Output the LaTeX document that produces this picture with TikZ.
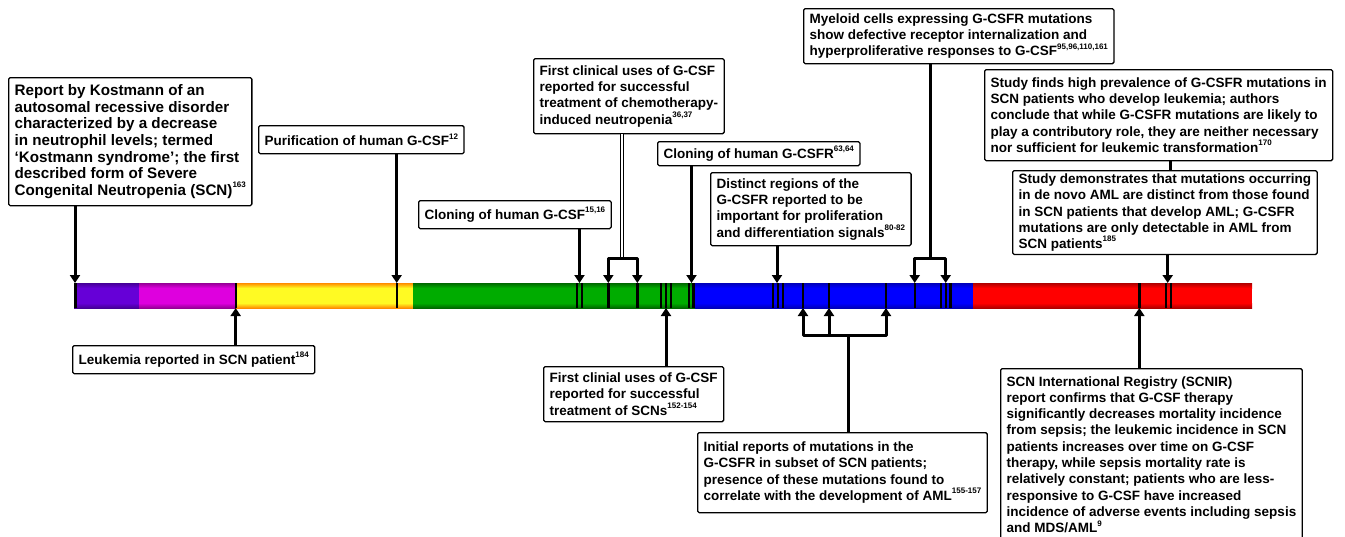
\documentclass[tikz,border=0pt]{standalone}
\usepackage{fontspec}
\setmainfont{Liberation Sans}
\usetikzlibrary{arrows.meta}
\definecolor{barPurple}{RGB}{102,0,215}
\definecolor{barPurpleEdge}{RGB}{70,0,150}
\definecolor{barMagenta}{RGB}{222,0,222}
\definecolor{barMagentaEdge}{RGB}{150,0,150}
\definecolor{barYellow}{RGB}{255,250,35}
\definecolor{barYellowEdge}{RGB}{255,140,0}
\definecolor{barGreen}{RGB}{0,172,0}
\definecolor{barGreenEdge}{RGB}{0,105,0}
\definecolor{barBlue}{RGB}{0,0,255}
\definecolor{barBlueEdge}{RGB}{0,0,185}
\definecolor{barRed}{RGB}{255,0,0}
\definecolor{barRedEdge}{RGB}{175,0,0}
\newcommand\evtfont{\fontsize{13.5}{16.3}\selectfont\bfseries}
\newcommand\kostfont{\fontsize{15.2}{16.6}\selectfont\bfseries}
\newcommand\refno[1]{\raisebox{0.5em}{\fontsize{8}{8}\selectfont #1}}
\tikzset{
  evt/.style={draw, line width=1.3pt, rounded corners=1.5pt, fill=white, align=left, anchor=north west, inner xsep=6pt, inner ysep=3pt, font=\evtfont},
  pointer/.style={line width=3pt, -{Triangle[width=10pt,length=8pt]}},
  link/.style={line width=3pt},
  twin/.style={double, line width=0.8pt, double distance=2pt},
  tick/.style={line width=2.4pt}
}
\begin{document}
\begin{tikzpicture}[x=1pt, y=-1pt, line join=round]
  \useasboundingbox (0,0) rectangle (1345,536);
  \foreach \a/\b/\c in {74/139/barPurple, 139/236/barMagenta, 236/413/barYellow, 413/695/barGreen, 695/973/barBlue, 973/1252/barRed} {
    \fill[\c] (\a,283) rectangle (\b,308);
    \shade[top color=\c Edge, bottom color=\c] (\a,283) rectangle (\b,288);
    \shade[top color=\c, bottom color=\c Edge] (\a,303) rectangle (\b,308);
  }
  \foreach \t in {75.5, 235.7, 396.7, 577, 582, 608.3, 637.3, 661, 666, 671, 689, 693.5, 773, 778, 783, 803, 829, 886, 914.7, 941, 946, 950.5, 1139.3, 1166, 1170.7}
    \draw[tick] (\t,283) -- (\t,308);
  \foreach \n/\x in {kost/75, purif/396.7, clonG/579.5, c1/608.3, c2/637.3, clonR/691.5, dist/777, m1/914.7, m2/945.7, demo/1167.7}
    \coordinate (top-\n) at (\x,283);
  \foreach \n/\x in {leuk/235.7, clin/666, i1/803, i2/829, i3/886, scnir/1139.3}
    \coordinate (bot-\n) at (\x,308);
  \coordinate (chemo-j) at (622,258);
  \coordinate (myel-j) at (930,258);
  \coordinate (init-j) at (848,335);
  \coordinate (find-x) at (1170,165);

  \node[evt, font=\kostfont, minimum height=128pt] (kost) at (8,77) {Report by Kostmann of an\\autosomal recessive disorder\\characterized by a decrease\\in neutrophil levels; termed\\`Kostmann syndrome'; the first\\described form of Severe\\Congenital Neutropenia (SCN)\refno{163}};
  \node[evt, minimum height=28pt] (purif) at (258,125) {Purification of human G-CSF\refno{12}};
  \node[evt, minimum height=28pt] (clonG) at (418,200) {Cloning of human G-CSF\refno{15,16}};
  \node[evt, minimum height=75pt] (chemo) at (533,58) {First clinical uses of G-CSF\\reported for successful\\treatment of chemotherapy-\\induced neutropenia\refno{36,37}};
  \node[evt, minimum height=24pt] (clonR) at (657,141) {Cloning of human G-CSFR\refno{63,64}};
  \node[evt, minimum height=55pt] (myel) at (803,8) {Myeloid cells expressing G-CSFR mutations\\show defective receptor internalization and\\hyperproliferative responses to G-CSF\refno{95,96,110,161}};
  \node[evt, minimum height=73pt] (dist) at (710,172) {Distinct regions of the\\G-CSFR reported to be\\important for proliferation\\and differentiation signals\refno{80-82}};
  \node[evt, minimum height=91pt] (find) at (984,69) {Study finds high prevalence of G-CSFR mutations in\\SCN patients who develop leukemia; authors\\conclude that while G-CSFR mutations are likely to\\play a contributory role, they are neither necessary\\nor sufficient for leukemic transformation\refno{170}};
  \node[evt, minimum height=83pt] (demo) at (1012,170) {Study demonstrates that mutations occurring\\in de novo AML are distinct from those found\\in SCN patients that develop AML; G-CSFR\\mutations are only detectable in AML from\\SCN patients\refno{185}};
  \node[evt, minimum height=28pt] (leuk) at (72,345) {Leukemia reported in SCN patient\refno{184}};
  \node[evt, minimum height=55pt] (clin) at (543,366) {First clinial uses of G-CSF\\reported for successful\\treatment of SCNs\refno{152-154}};
  \node[evt, minimum height=80pt] (init) at (697,432) {Initial reports of mutations in the\\G-CSFR in subset of SCN patients;\\presence of these mutations found to\\correlate with the development of AML\refno{155-157}};
  \node[evt, minimum height=172pt] (scnir) at (1000,368) {SCN International Registry (SCNIR)\\report confirms that G-CSF therapy\\significantly decreases mortality incidence\\from sepsis; the leukemic incidence in SCN\\patients increases over time on G-CSF\\therapy, while sepsis mortality rate is\\relatively constant; patients who are less-\\responsive to G-CSF have increased\\incidence of adverse events including sepsis\\and MDS/AML\refno{9}};

  \foreach \n in {kost, purif, clonG, clonR, dist, demo}
    \draw[pointer] (\n.south -| top-\n) -- (top-\n);
  \foreach \n in {leuk, clin, scnir}
    \draw[pointer] (\n.north -| bot-\n) -- (bot-\n);
  \draw[twin] (chemo.south -| chemo-j) -- (chemo-j);
  \draw[pointer] (chemo-j) -| (top-c1);
  \draw[pointer] (chemo-j) -| (top-c2);
  \draw[link] (myel.south -| myel-j) -- (myel-j);
  \draw[pointer] (myel-j) -| (top-m1);
  \draw[pointer] (myel-j) -| (top-m2);
  \draw[link] (init.north -| init-j) -- (init-j);
  \foreach \n in {i1, i2, i3}
    \draw[pointer] (init-j) -| (bot-\n);
  \draw[link] (find.south -| find-x) -- (demo.north -| find-x);
\end{tikzpicture}
\end{document}
